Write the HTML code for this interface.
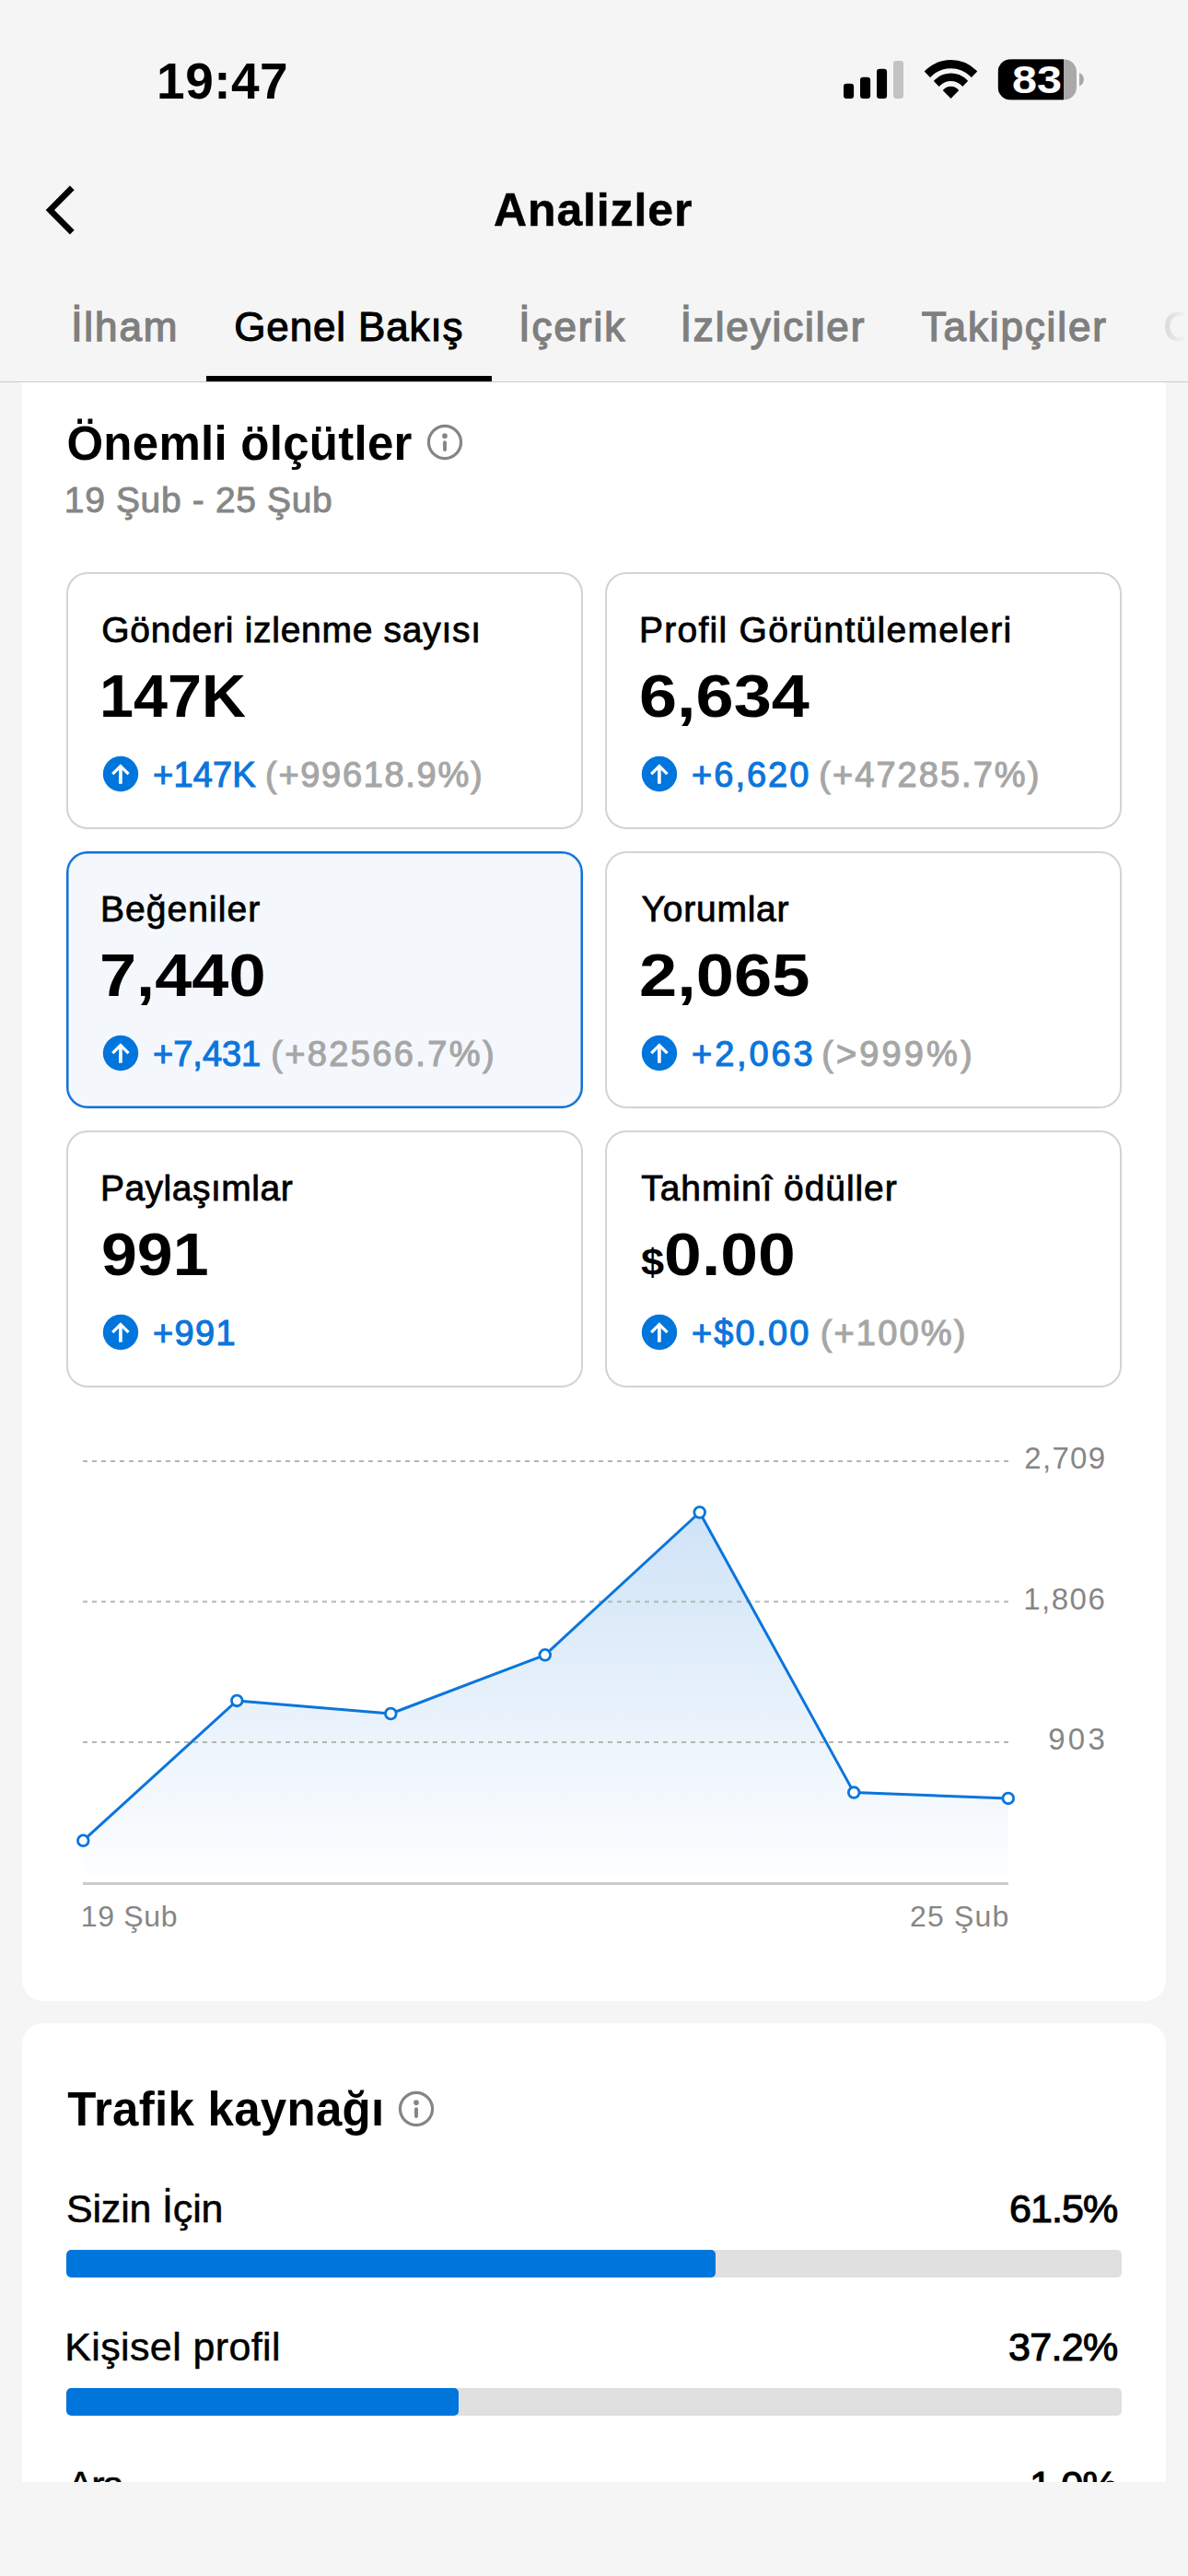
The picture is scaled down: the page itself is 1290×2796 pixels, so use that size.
<!DOCTYPE html>
<html lang="tr">
<head>
<meta charset="utf-8">
<title>Analizler</title>
<style>
*{box-sizing:border-box;margin:0;padding:0}
html,body{width:1290px;height:2796px;overflow:hidden;background:#f5f5f5}
body{position:relative;font-family:"Liberation Sans",sans-serif;color:#000}
.t{position:absolute;white-space:nowrap;line-height:1}
.b{font-weight:700}
.sb{-webkit-text-stroke:2.6px currentColor;paint-order:stroke fill}
.m{-webkit-text-stroke:1.4px currentColor}
.m4{-webkit-text-stroke:1.1px currentColor}
.m5{-webkit-text-stroke:0.9px currentColor}
.m6{-webkit-text-stroke:0.5px currentColor}
.m2{-webkit-text-stroke:1.1px currentColor}
.m3{-webkit-text-stroke:0.8px currentColor}
.abs{position:absolute}
.card{position:absolute;background:#fff}
.mc{position:absolute;width:561px;height:279px;border:2px solid #d3d3d3;border-radius:23px;background:#fff}
.mc.sel{border:2px solid #0b72d9;box-shadow:inset 0 0 0 0.5px #0b72d9;background:#f4f8fd}
.ic{position:absolute;width:40px;height:40px}
.track{position:absolute;left:72px;width:1146px;height:30px;border-radius:5px;background:#e0e0e0;overflow:hidden}
.track i{display:block;height:30px;border-radius:5px;background:#0075dc}
</style>
</head>
<body>
<!-- status bar icons -->
<svg class="abs" style="left:900px;top:50px" width="300" height="80" viewBox="900 50 300 80">
  <rect x="916" y="90.8" width="11.1" height="16.3" rx="3.3" fill="#000"/>
  <rect x="934" y="83.8" width="11.1" height="23.3" rx="3.3" fill="#000"/>
  <rect x="952" y="74.8" width="11.1" height="32.3" rx="3.3" fill="#000"/>
  <rect x="970" y="66" width="11" height="41.1" rx="3.3" fill="#c3c3c3"/>
  <!-- wifi -->
  <clipPath id="wc"><path d="M1032.5 107.05 L990.6 64.1 V50 H1074.4 V64.1 Z"/></clipPath>
  <g clip-path="url(#wc)">
    <circle cx="1032.5" cy="104.4" r="34.75" fill="none" stroke="#000" stroke-width="9.1"/>
    <circle cx="1032.5" cy="104.4" r="20.6" fill="none" stroke="#000" stroke-width="8.4"/>
    <circle cx="1032.5" cy="104.4" r="10.7" fill="#000"/>
  </g>
  <!-- battery -->
  <defs><clipPath id="bc"><rect x="1083.6" y="64.2" width="85.4" height="44.4" rx="14"/></clipPath></defs>
  <g clip-path="url(#bc)">
    <rect x="1083.6" y="64.2" width="85.4" height="44.4" fill="#a9a9a9"/>
    <rect x="1083.6" y="64.2" width="71.4" height="44.4" fill="#000"/>
  </g>
  <path d="M1172 79.3 C1178.5 81 1178.5 91.7 1172 93.4 Z" fill="#a9a9a9"/>
</svg>

<!-- back chevron -->
<svg class="abs" style="left:40px;top:195px" width="60" height="66" viewBox="40 195 60 66">
  <path d="M78.3 203.9 L54.4 228 L78.3 252.1" fill="none" stroke="#000" stroke-width="6.7" stroke-linecap="butt" stroke-linejoin="miter"/>
</svg>

<!-- tab lines -->
<div class="abs" style="left:0;top:414px;width:1290px;height:1px;background:#cacaca"></div>
<div class="abs" style="left:224px;top:408px;width:310px;height:6px;background:#000"></div>
<div class="t" id="tab6" style="left:1263.5px;top:333.4px;font-size:44px;color:#d6d6d6;-webkit-text-stroke:1px currentColor">C</div>
<div class="abs" style="left:1262px;top:330px;width:28px;height:60px;background:linear-gradient(90deg,rgba(245,245,245,0),rgba(245,245,245,1) 95%)"></div>

<!-- card 1 -->
<div class="card" style="left:24px;top:415px;width:1242px;height:1757px;border-radius:0 0 23px 23px"></div>
<!-- card 2 -->
<div class="card" style="left:24px;top:2196px;width:1242px;height:498px;border-radius:23px 23px 0 0"></div>

<!-- info icons -->
<svg class="abs" style="left:463px;top:459.85px" width="40" height="40" viewBox="0 0 40 40"><circle cx="20" cy="20" r="17.55" fill="none" stroke="#858585" stroke-width="3.2"/><line x1="20" y1="20.3" x2="20" y2="28" stroke="#858585" stroke-width="3.9" stroke-linecap="round"/><circle cx="20" cy="13.15" r="2.8" fill="#858585"/></svg>
<svg class="abs" style="left:432px;top:2268.8px" width="40" height="40" viewBox="0 0 40 40"><circle cx="20" cy="20" r="17.55" fill="none" stroke="#858585" stroke-width="3.2"/><line x1="20" y1="20.3" x2="20" y2="28" stroke="#858585" stroke-width="3.9" stroke-linecap="round"/><circle cx="20" cy="13.15" r="2.8" fill="#858585"/></svg>

<!-- metric cards -->
<div class="mc" style="left:72px;top:621px"></div>
<div class="mc" style="left:657px;top:621px"></div>
<div class="mc sel" style="left:72px;top:924px"></div>
<div class="mc" style="left:657px;top:924px"></div>
<div class="mc" style="left:72px;top:1227px"></div>
<div class="mc" style="left:657px;top:1227px"></div>

<svg width="0" height="0" style="position:absolute"><defs>
<symbol id="up" viewBox="0 0 40 40"><circle cx="20" cy="20" r="19.2" fill="#0075dc"/><path d="M19.9 30.75 V12" fill="none" stroke="#fff" stroke-width="3.7"/><path d="M11.24 20.1 L19.9 11.6 L28.56 20.1" fill="none" stroke="#fff" stroke-width="3.3" stroke-linecap="butt" stroke-linejoin="miter"/></symbol>
</defs></svg>
<svg class="ic" style="left:111.06px;top:819.9px"><use href="#up"/></svg>
<svg class="ic" style="left:696.06px;top:819.9px"><use href="#up"/></svg>
<svg class="ic" style="left:111.06px;top:1122.9px"><use href="#up"/></svg>
<svg class="ic" style="left:696.06px;top:1122.9px"><use href="#up"/></svg>
<svg class="ic" style="left:111.06px;top:1425.9px"><use href="#up"/></svg>
<svg class="ic" style="left:696.06px;top:1425.9px"><use href="#up"/></svg>

<!-- chart -->
<svg class="abs" style="left:60px;top:1560px" width="1060" height="500" viewBox="60 1560 1060 500">
  <defs><linearGradient id="ag" x1="0" y1="1642" x2="0" y2="2036" gradientUnits="userSpaceOnUse"><stop offset="0" stop-color="#cfe3f7"/><stop offset="1" stop-color="#fdfeff"/></linearGradient></defs>
  <path d="M90.3 1997.8 L257.3 1845.9 L424.3 1860 L591.8 1796.3 L759.7 1641.5 L927.2 1945.6 L1094.8 1951.9 L1094.8 2036 L90.3 2036 Z" fill="url(#ag)"/>
  <g stroke="#b5b5b5" stroke-width="1.8" stroke-dasharray="5 5">
    <line x1="90" y1="1586" x2="1095" y2="1586"/>
    <line x1="90" y1="1738.5" x2="1095" y2="1738.5"/>
    <line x1="90" y1="1891" x2="1095" y2="1891"/>
  </g>
  <line x1="90" y1="2044.5" x2="1095" y2="2044.5" stroke="#cbcbcb" stroke-width="3"/>
  <path d="M90.3 1997.8 L257.3 1845.9 L424.3 1860 L591.8 1796.3 L759.7 1641.5 L927.2 1945.6 L1094.8 1951.9" fill="none" stroke="#0b75dc" stroke-width="3" stroke-linejoin="round"/>
  <g fill="#fff" stroke="#0b75dc" stroke-width="2.8">
    <circle cx="90.3" cy="1997.8" r="5.85"/><circle cx="257.3" cy="1845.9" r="5.85"/><circle cx="424.3" cy="1860" r="5.85"/><circle cx="591.8" cy="1796.3" r="5.85"/><circle cx="759.7" cy="1641.5" r="5.85"/><circle cx="927.2" cy="1945.6" r="5.85"/><circle cx="1094.8" cy="1951.9" r="5.85"/>
  </g>
</svg>

<!-- bars -->
<div class="track" style="top:2442px"><i style="width:705px"></i></div>
<div class="track" style="top:2592px"><i style="width:426.3px"></i></div>
<div class="track" style="top:2742px"><i style="width:11.5px"></i></div>

<div class="t b" id="time" style="left:170.1px;top:60.9px;font-size:55px;color:#000;letter-spacing:0.47px">19:47</div>
<div class="t b" id="batt" style="left:1099.4px;top:66.1px;font-size:42px;color:#fff;transform:scaleX(1.1546);transform-origin:0 0">83</div>
<div class="t b m6" id="title" style="left:536.0px;top:203.1px;font-size:50px;color:#000;letter-spacing:0.88px">Analizler</div>
<div class="t m" id="tab1" style="left:77.2px;top:333.4px;font-size:44px;color:#7f7f7f;letter-spacing:1.93px">İlham</div>
<div class="t m4" id="tab2" style="left:254.3px;top:333.4px;font-size:44px;color:#000;letter-spacing:0.85px">Genel Bakış</div>
<div class="t m" id="tab3" style="left:563.3px;top:333.4px;font-size:44px;color:#7f7f7f;letter-spacing:1.95px">İçerik</div>
<div class="t m" id="tab4" style="left:738.7px;top:333.4px;font-size:44px;color:#7f7f7f;letter-spacing:1.87px">İzleyiciler</div>
<div class="t m" id="tab5" style="left:1000.7px;top:333.4px;font-size:44px;color:#7f7f7f;letter-spacing:1.87px">Takipçiler</div>
<div class="t b" id="h1" style="left:72.4px;top:456.1px;font-size:51px;color:#000;letter-spacing:0.27px">Önemli ölçütler</div>
<div class="t m5" id="date" style="left:69.8px;top:523.3px;font-size:39px;color:#868686;letter-spacing:0.65px">19 Şub - 25 Şub</div>
<div class="t m3" id="c1l" style="left:110.3px;top:663.5px;font-size:39px;color:#000;letter-spacing:0.72px">Gönderi izlenme sayısı</div>
<div class="t b" id="c1v" style="left:107.9px;top:723.0px;font-size:65px;color:#000;transform:scaleX(1.0230);transform-origin:0 0">147K</div>
<div class="t m2" id="c1d1" style="left:166.1px;top:821.8px;font-size:38px;color:#0b75dc;letter-spacing:0.13px">+147K</div>
<div class="t m2" id="c1d2" style="left:288.1px;top:821.8px;font-size:38px;color:#a6a6a6;letter-spacing:1.68px">(+99618.9%)</div>
<div class="t m3" id="c2l" style="left:693.9px;top:663.5px;font-size:39px;color:#000;letter-spacing:1.29px">Profil Görüntülemeleri</div>
<div class="t b" id="c2v" style="left:693.6px;top:723.0px;font-size:65px;color:#000;transform:scaleX(1.1367);transform-origin:0 0">6,634</div>
<div class="t m2" id="c2d1" style="left:751.1px;top:821.8px;font-size:38px;color:#0b75dc;letter-spacing:1.99px">+6,620</div>
<div class="t m2" id="c2d2" style="left:889.3px;top:821.8px;font-size:38px;color:#a6a6a6;letter-spacing:2.04px">(+47285.7%)</div>
<div class="t m3" id="c3l" style="left:108.9px;top:966.5px;font-size:39px;color:#000;letter-spacing:1.08px">Beğeniler</div>
<div class="t b" id="c3v" style="left:108.3px;top:1026.0px;font-size:65px;color:#000;transform:scaleX(1.1097);transform-origin:0 0">7,440</div>
<div class="t m2" id="c3d1" style="left:166.1px;top:1124.8px;font-size:38px;color:#0b75dc;letter-spacing:-0.03px">+7,431</div>
<div class="t m2" id="c3d2" style="left:294.2px;top:1124.8px;font-size:38px;color:#a6a6a6;letter-spacing:2.38px">(+82566.7%)</div>
<div class="t m3" id="c4l" style="left:696.6px;top:966.5px;font-size:39px;color:#000;letter-spacing:0.76px">Yorumlar</div>
<div class="t b" id="c4v" style="left:693.6px;top:1026.0px;font-size:65px;color:#000;transform:scaleX(1.1399);transform-origin:0 0">2,065</div>
<div class="t m2" id="c4d1" style="left:751.1px;top:1124.8px;font-size:38px;color:#0b75dc;letter-spacing:2.85px">+2,063</div>
<div class="t m2" id="c4d2" style="left:892.3px;top:1124.8px;font-size:38px;color:#a6a6a6;letter-spacing:3.11px">(&gt;999%)</div>
<div class="t m3" id="c5l" style="left:108.9px;top:1269.5px;font-size:39px;color:#000;letter-spacing:0.51px">Paylaşımlar</div>
<div class="t b" id="c5v" style="left:109.6px;top:1329.0px;font-size:65px;color:#000;transform:scaleX(1.0748);transform-origin:0 0">991</div>
<div class="t m2" id="c5d1" style="left:166.1px;top:1427.8px;font-size:38px;color:#0b75dc;letter-spacing:1.31px">+991</div>
<div class="t m3" id="c6l" style="left:696.3px;top:1269.5px;font-size:39px;color:#000;letter-spacing:0.92px">Tahminî ödüller</div>
<div class="t b" id="c6v" style="left:696.3px;top:1329.0px;font-size:65px;color:#000;transform:scaleX(1.1282);transform-origin:0 0"><span style="font-size:40px">$</span>0.00</div>
<div class="t m2" id="c6d1" style="left:751.1px;top:1427.8px;font-size:38px;color:#0b75dc;letter-spacing:1.99px">+$0.00</div>
<div class="t m2" id="c6d2" style="left:890.7px;top:1427.8px;font-size:38px;color:#a6a6a6;letter-spacing:2.16px">(+100%)</div>
<div class="t " id="y1" style="left:1112.3px;top:1566.4px;font-size:33px;color:#868686;letter-spacing:1.30px">2,709</div>
<div class="t " id="y2" style="left:1111.3px;top:1718.9px;font-size:33px;color:#868686;letter-spacing:1.47px">1,806</div>
<div class="t " id="y3" style="left:1138.3px;top:1871.4px;font-size:33px;color:#868686;letter-spacing:3.20px">903</div>
<div class="t " id="x1" style="left:87.7px;top:2063.9px;font-size:32px;color:#868686;letter-spacing:0.71px">19 Şub</div>
<div class="t " id="x2" style="left:988.1px;top:2063.9px;font-size:32px;color:#868686;letter-spacing:1.15px">25 Şub</div>
<div class="t b" id="h2" style="left:73.3px;top:2263.7px;font-size:51px;color:#000;letter-spacing:0.29px">Trafik kaynağı</div>
<div class="t m6" id="r1l" style="left:71.9px;top:2375.7px;font-size:43px;color:#000;letter-spacing:-0.16px">Sizin İçin</div>
<div class="t m4" id="r1v" style="left:1095.9px;top:2375.7px;font-size:43px;color:#000;letter-spacing:-0.87px">61.5%</div>
<div class="t m6" id="r2l" style="left:70.2px;top:2525.9px;font-size:43px;color:#000;letter-spacing:0.38px">Kişisel profil</div>
<div class="t m4" id="r2v" style="left:1095.0px;top:2525.9px;font-size:43px;color:#000;letter-spacing:-0.67px">37.2%</div>
<div class="t m6" id="r3l" style="left:73.0px;top:2675.9px;font-size:43px;color:#000;letter-spacing:-2.50px">Ara</div>
<div class="t m4" id="r3v" style="left:1118.0px;top:2675.9px;font-size:43px;color:#000;letter-spacing:-0.80px">1.0%</div>

<!-- bottom cover -->
<div class="abs" style="left:0;top:2694px;width:1290px;height:102px;background:#f5f5f5"></div>

</body>
</html>
